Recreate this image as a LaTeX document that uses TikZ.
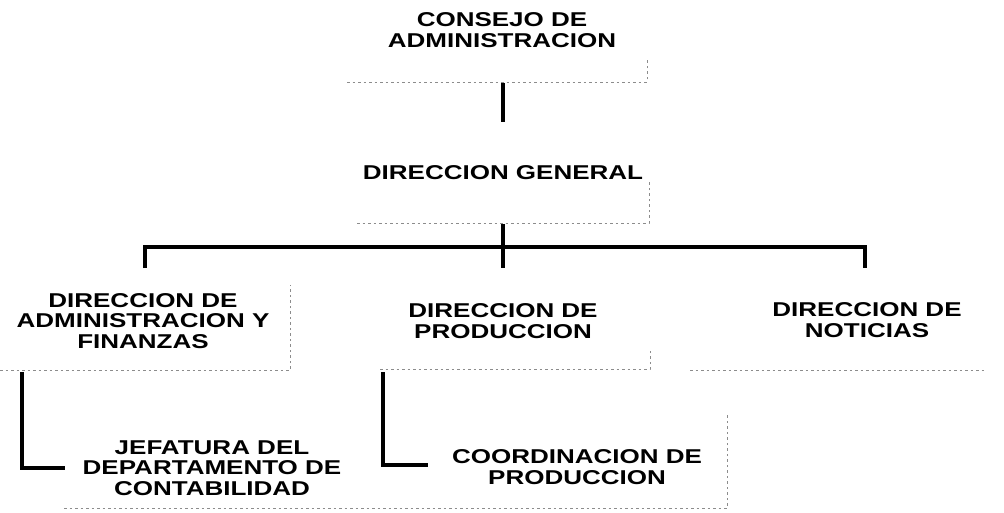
\documentclass[tikz,border=0pt]{standalone}
\usepackage{fontspec}
\newfontfamily\orgfont{Liberation Sans}[FakeStretch=1.3]
\begin{document}
\begin{tikzpicture}[x=1pt,y=-1pt,
  lbl/.style={font=\orgfont\bfseries\fontsize{20}{20.5}\selectfont, align=center, inner sep=0pt},
  conn/.style={line width=3.5pt},
  boxedge/.style={black!45, line width=0.9pt, dash pattern=on 2.5pt off 3pt}]
\useasboundingbox (0,0) rectangle (1004,513);
% text nodes
\node[lbl] (consejo) at (502,30) {CONSEJO DE\\ADMINISTRACION};
\node[lbl] (dg) at (503,173) {DIRECCION GENERAL};
\node[lbl] (daf) at (143,321) {DIRECCION DE\\ADMINISTRACION Y\\FINANZAS};
\node[lbl] (dp) at (503,321) {DIRECCION DE\\PRODUCCION};
\node[lbl] (dn) at (867,320) {DIRECCION DE\\NOTICIAS};
\node[lbl] (jef) at (212,468) {JEFATURA DEL\\DEPARTAMENTO DE\\CONTABILIDAD};
\node[lbl] (coord) at (577,467) {COORDINACION DE\\PRODUCCION};
% faint box edges (bottom and right)
\draw[boxedge] (347,82) -- (647,82) -- (647,58);
\draw[boxedge] (357,223) -- (649,223) -- (649,182);
\draw[boxedge] (0,370) -- (290,370) -- (290,285);
\draw[boxedge] (380,369) -- (650,369) -- (650,350);
\draw[boxedge] (690,370) -- (985,370);
\draw[boxedge] (64,508) -- (727,508) -- (727,413);
% connector points
\coordinate (consejo-b) at (503,83);
\coordinate (dg-t) at (503,122);
\coordinate (dg-b) at (503,224);
\coordinate (bus) at (503,247);
\coordinate (daf-t) at (145,268);
\coordinate (dp-t) at (503,268);
\coordinate (dn-t) at (865,268);
\coordinate (daf-b) at (22,372);
\coordinate (jef-l) at (65,468);
\coordinate (dp-b) at (383,372);
\coordinate (coord-l) at (428,465);
% connectors
\draw[conn] (consejo-b) -- (dg-t);
\draw[conn] (dg-b) -- (dp-t);
\draw[conn] (daf-t) |- (bus) -| (dn-t);
\draw[conn] (daf-b) |- (jef-l);
\draw[conn] (dp-b) |- (coord-l);
\end{tikzpicture}
\end{document}
